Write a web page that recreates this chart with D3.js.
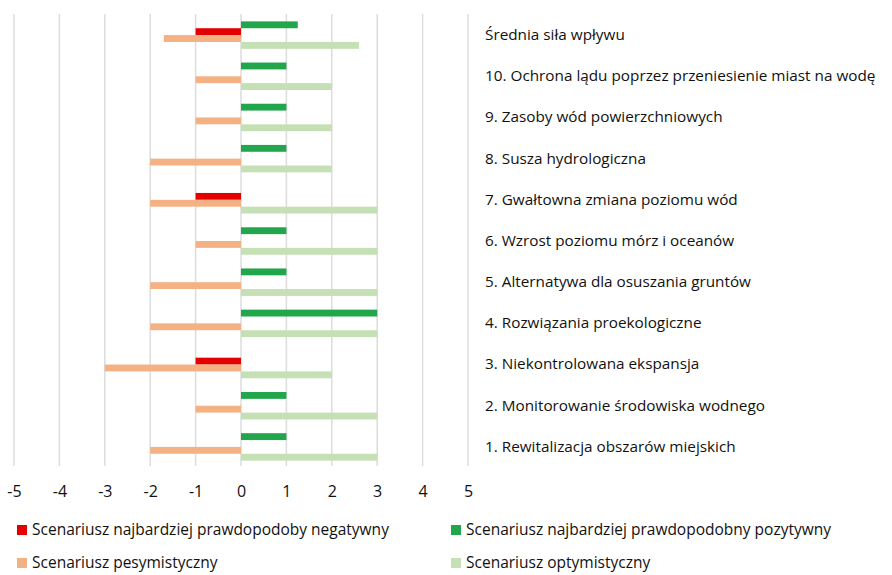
<!DOCTYPE html>
<html>
<head>
<meta charset="utf-8">
<script src="https://cdn.jsdelivr.net/npm/d3@7"></script>
<style>
  body { margin: 0; background: #fff; }
  text { font-family: "Open Sans", "Noto Sans", sans-serif; fill: #111; }
</style>
</head>
<body>
<div id="chart-container"></div>
<script>
// categories, top to bottom
var categories = [
    "Średnia siła wpływu",
    "10. Ochrona lądu poprzez przeniesienie miast na wodę",
    "9. Zasoby wód powierzchniowych",
    "8. Susza hydrologiczna",
    "7. Gwałtowna zmiana poziomu wód",
    "6. Wzrost poziomu mórz i oceanów",
    "5. Alternatywa dla osuszania gruntów",
    "4. Rozwiązania proekologiczne",
    "3. Niekontrolowana ekspansja",
    "2. Monitorowanie środowiska wodnego",
    "1. Rewitalizacja obszarów miejskich"
];

// series values, same order as categories
var pozytywny   = [1.25, 1, 1, 1, 0, 1, 1, 3, 0, 1, 1];
var negatywny   = [-1, 0, 0, 0, -1, 0, 0, 0, -1, 0, 0];
var pesymist    = [-1.7, -1, -1, -2, -2, -1, -2, -2, -3, -1, -2];
var optymist    = [2.6, 2, 2, 2, 3, 3, 3, 3, 2, 3, 3];

var xTicks = [-5, -4, -3, -2, -1, 0, 1, 2, 3, 4, 5];

// order inside a group, top to bottom
var series = [
    {key: "poz", name: "Scenariusz najbardziej prawdopodobny pozytywny", color: "#21a64b", values: pozytywny},
    {key: "neg", name: "Scenariusz najbardziej prawdopodoby negatywny", color: "#e50000", values: negatywny},
    {key: "pes", name: "Scenariusz pesymistyczny", color: "#f4b183", values: pesymist},
    {key: "opt", name: "Scenariusz optymistyczny", color: "#c5e0b4", values: optymist}
];

// legend order (2 columns)
var legendOrder = ["neg", "poz", "pes", "opt"];

var w = 892, h = 575;

var svg = d3.select("#chart-container").append("svg")
    .attr("width", w).attr("height", h);

var xScale = d3.scaleLinear().domain([-5, 5]).range([14, 468]);

var yScale = d3.scaleBand()
    .domain(categories)
    .range([14.5, 467.5])
    .padding(0);

var ySub = d3.scaleBand()
    .domain(series.map(function(s){ return s.key; }))
    .range([0, yScale.bandwidth()])
    .paddingInner(0)
    .paddingOuter(1);

// gridlines
svg.append("g").selectAll("line")
    .data(xTicks)
    .enter().append("line")
    .attr("x1", function(d){ return xScale(d); })
    .attr("x2", function(d){ return xScale(d); })
    .attr("y1", 14)
    .attr("y2", 466)
    .attr("stroke", "#dcdcdc")
    .attr("stroke-width", 1.5);

// bars
var flat = [];
series.forEach(function(s){
    s.values.forEach(function(v, i){
        flat.push({key: s.key, color: s.color, cat: categories[i], value: v});
    });
});

svg.append("g").selectAll("rect")
    .data(flat.filter(function(d){ return d.value !== 0; }))
    .enter().append("rect")
    .attr("x", function(d){ return xScale(Math.min(0, d.value)); })
    .attr("y", function(d){ return yScale(d.cat) + ySub(d.key); })
    .attr("width", function(d){ return Math.abs(xScale(d.value) - xScale(0)); })
    .attr("height", ySub.bandwidth())
    .attr("fill", function(d){ return d.color; });

// x axis labels (plain hyphen minus like the original)
var xAxis = d3.axisBottom(xScale)
    .tickValues(xTicks)
    .tickFormat(function(d){ return String(d); })
    .tickSize(0).tickPadding(0);
var gx = svg.append("g")
    .attr("transform", "translate(0,491)")
    .call(xAxis);
gx.select(".domain").remove();
gx.selectAll("text")
    .attr("dy", "0.35em")
    .style("font-size", "16px")
    .style("font-family", "'Open Sans', sans-serif")
    .attr("fill", "#111");

// category labels at right
var yAxis = d3.axisRight(yScale).tickSize(0).tickPadding(0);
var gy = svg.append("g")
    .attr("transform", "translate(485,0)")
    .call(yAxis);
gy.select(".domain").remove();
gy.selectAll("text")
    .style("font-size", "15.3px")
    .style("font-family", "'Open Sans', sans-serif")
    .attr("fill", "#111");

// legend
var legend = svg.append("g");
var legItems = legend.selectAll("g")
    .data(legendOrder.map(function(k){ return series.find(function(s){ return s.key === k; }); }))
    .enter().append("g")
    .attr("transform", function(d, i){
        return "translate(" + (i % 2 === 0 ? 17 : 451) + "," + (i < 2 ? 530 : 563) + ")";
    });
legItems.append("rect")
    .attr("x", 0).attr("y", -5)
    .attr("width", 10).attr("height", 10)
    .attr("fill", function(d){ return d.color; });
legItems.append("text")
    .attr("x", 15)
    .attr("dy", "0.35em")
    .style("font-size", "15.5px")
    .text(function(d){ return d.name; });
</script>
</body>
</html>
